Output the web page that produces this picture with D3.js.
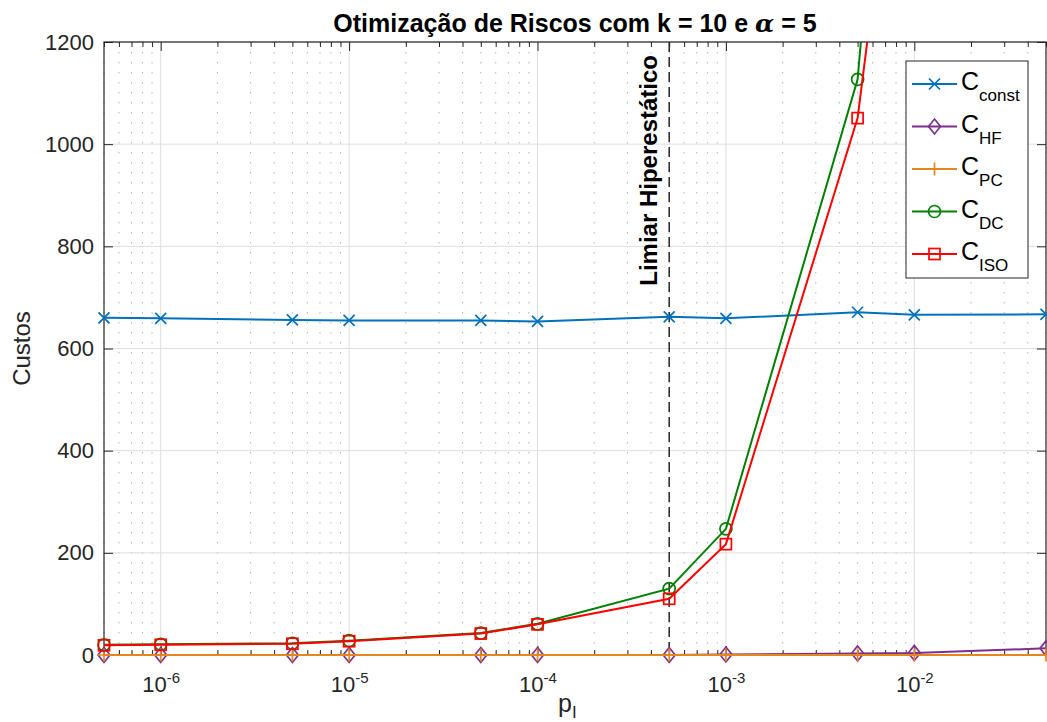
<!DOCTYPE html>
<html>
<head>
<meta charset="utf-8">
<script src="https://cdn.jsdelivr.net/npm/d3@7"></script>
<style>
  body { margin: 0; background: #fff; }
  svg { display: block; font-family: "Liberation Sans", Arial, sans-serif; }
</style>
</head>
<body>
<div id="chart"></div>
<script>
// values
const pValues = [5e-7, 1e-6, 5e-6, 1e-5, 5e-5, 1e-4, 5e-4, 1e-3, 5e-3, 1e-2, 5e-2];
const cConst = [660, 659, 656, 655, 655, 653, 662, 659, 671, 666, 667];
const cHF    = [0, 0, 0, 0, 0, 0, 0, 1, 3, 4, 13];
const cPC    = [0, 0, 0, 0, 0, 0, 0, 0, 0, 0, 0];
const cDC    = [20, 21, 23, 28, 43, 61, 130, 247, 1127, 2400, 9000];
const cISO   = [19, 20, 22, 27, 42, 60, 110, 217, 1051, 1930, 8000];
const yTicks = [0, 200, 400, 600, 800, 1000, 1200];
const xMajor = [1e-6, 1e-5, 1e-4, 1e-3, 1e-2];
const threshold = 5e-4;

const series = [
  { name: 'const', values: cConst, color: '#0072BD', marker: 'x' },
  { name: 'HF', values: cHF, color: '#7E2F8E', marker: 'diamond' },
  { name: 'PC', values: cPC, color: '#E3871E', marker: 'plus' },
  { name: 'DC', values: cDC, color: '#008000', marker: 'circle' },
  { name: 'ISO', values: cISO, color: '#FF0000', marker: 'square' }
];

const width = 1047, height = 722;
const pLeft = 104, pRight = 1046, pTop = 42, pBottom = 655;
const axisColor = '#262626';

const svg = d3.select('#chart').append('svg')
  .attr('width', width).attr('height', height);

const x = d3.scaleLog().domain([5e-7, 5e-2]).range([pLeft, pRight]);
const y = d3.scaleLinear().domain([0, 1200]).range([pBottom, pTop]);

// minor values for log axis
const xMinor = [];
for (let e = -7; e <= -2; e++) {
  for (let k = 2; k <= 9; k++) {
    const v = k * Math.pow(10, e);
    if (v >= 5e-7 && v <= 5e-2 * 1.0001) xMinor.push(v);
  }
}

// grid
const grid = svg.append('g');
grid.selectAll('.minor').data(xMinor).enter().append('line')
  .attr('x1', d => x(d)).attr('x2', d => x(d))
  .attr('y1', pTop).attr('y2', pBottom)
  .attr('stroke', '#b4b4b4').attr('stroke-width', 1)
  .attr('stroke-dasharray', '1.5,8.5');
grid.selectAll('.majx').data(xMajor).enter().append('line')
  .attr('x1', d => x(d)).attr('x2', d => x(d))
  .attr('y1', pTop).attr('y2', pBottom)
  .attr('stroke', '#dedede').attr('stroke-width', 1);
grid.selectAll('.majy').data(yTicks).enter().append('line')
  .attr('x1', pLeft).attr('x2', pRight)
  .attr('y1', d => y(d)).attr('y2', d => y(d))
  .attr('stroke', '#dedede').attr('stroke-width', 1);

// axes
function styleAxis(g) {
  g.select('.domain').remove();
  g.selectAll('line').attr('stroke', axisColor);
  g.selectAll('text').attr('fill', axisColor).attr('font-size', 22)
    .attr('font-family', '"Liberation Sans", Arial, sans-serif');
}

const fmtExp = d => Math.round(Math.log10(d));

const xAxis = svg.append('g').attr('transform', `translate(0,${pBottom})`)
  .call(d3.axisBottom(x).tickValues(xMajor).tickSizeInner(-9).tickSizeOuter(0).tickPadding(21).tickFormat(d => ''))
  .call(styleAxis);
xAxis.selectAll('.tick text').each(function(d) {
  const t = d3.select(this).attr('dy', '0.71em');
  t.append('tspan').text('10');
  t.append('tspan').attr('font-size', 15).attr('dy', '-0.6em').text(fmtExp(d));
});
svg.append('g').attr('transform', `translate(0,${pBottom})`)
  .call(d3.axisBottom(x).tickValues(xMinor).tickSizeInner(-5).tickSizeOuter(0).tickFormat(''))
  .call(styleAxis);
svg.append('g').attr('transform', `translate(0,${pTop})`)
  .call(d3.axisTop(x).tickValues(xMajor).tickSizeInner(-9).tickSizeOuter(0).tickFormat(''))
  .call(styleAxis);
svg.append('g').attr('transform', `translate(0,${pTop})`)
  .call(d3.axisTop(x).tickValues(xMinor).tickSizeInner(-5).tickSizeOuter(0).tickFormat(''))
  .call(styleAxis);
svg.append('g').attr('transform', `translate(${pLeft},0)`)
  .call(d3.axisLeft(y).tickValues(yTicks).tickFormat(d3.format('d')).tickSizeInner(-9).tickSizeOuter(0).tickPadding(10))
  .call(styleAxis);
svg.append('g').attr('transform', `translate(${pRight},0)`)
  .call(d3.axisRight(y).tickValues(yTicks).tickSizeInner(-9).tickSizeOuter(0).tickFormat(''))
  .call(styleAxis);

// box
svg.append('rect').attr('x', pLeft).attr('y', pTop)
  .attr('width', pRight - pLeft).attr('height', pBottom - pTop)
  .attr('fill', 'none').attr('stroke', axisColor).attr('stroke-width', 1.2);

// threshold line
svg.append('line')
  .attr('x1', x(threshold)).attr('x2', x(threshold))
  .attr('y1', pTop).attr('y2', pBottom)
  .attr('stroke', axisColor).attr('stroke-width', 1.5)
  .attr('stroke-dasharray', '10,5');
svg.append('text')
  .attr('transform', `translate(${x(threshold) - 12},55) rotate(-90)`)
  .attr('text-anchor', 'end')
  .attr('font-size', 24).attr('font-weight', 'bold')
  .attr('fill', '#000')
  .text('Limiar Hiperestático');

// series
svg.append('clipPath').attr('id', 'clip')
  .append('rect').attr('x', pLeft - 2).attr('y', pTop)
  .attr('width', pRight - pLeft + 4).attr('height', pBottom - pTop + 2);

const line = d3.line().x(d => x(d[0])).y(d => y(d[1]));

function drawMarker(g, type, color) {
  let el;
  if (type === 'x') el = g.append('path').attr('d', 'M-5.5,-5.5L5.5,5.5M-5.5,5.5L5.5,-5.5');
  else if (type === 'plus') el = g.append('path').attr('d', 'M-6.5,0L6.5,0M0,-6.5L0,6.5');
  else if (type === 'diamond') el = g.append('path').attr('d', 'M0,-7.5L6,0L0,7.5L-6,0Z');
  else if (type === 'circle') el = g.append('circle').attr('r', 6);
  else el = g.append('rect').attr('x', -5.5).attr('y', -5.5).attr('width', 11).attr('height', 11);
  el.attr('stroke', color).attr('stroke-width', 1.7).attr('fill', 'none');
}

series.forEach(s => {
  const pts = pValues.map((p, i) => [p, s.values[i]]);
  const g = svg.append('g');
  g.append('path').datum(pts)
    .attr('clip-path', 'url(#clip)')
    .attr('d', line).attr('fill', 'none')
    .attr('stroke', s.color).attr('stroke-width', 2);
  // markers are only hidden when the point lies outside the axes
  pts.filter(p => p[1] <= 1200).forEach(p => {
    drawMarker(g.append('g').attr('transform', `translate(${x(p[0])},${y(p[1])})`), s.marker, s.color);
  });
});

// labels
svg.append('text')
  .attr('x', (pLeft + pRight) / 2).attr('y', 32)
  .attr('text-anchor', 'middle').attr('font-size', 25).attr('font-weight', 'bold')
  .attr('fill', '#000')
  .call(t => {
    t.append('tspan').text('Otimização de Riscos com k = 10 e ');
    t.append('tspan').attr('font-family', '"DejaVu Serif", serif').attr('font-style', 'italic').text('α');
    t.append('tspan').text(' = 5');
  });

svg.append('text')
  .attr('transform', `translate(30,${(pTop + pBottom) / 2}) rotate(-90)`)
  .attr('text-anchor', 'middle').attr('font-size', 24).attr('fill', axisColor)
  .text('Custos');

svg.append('text')
  .attr('x', (pLeft + pRight) / 2 - 17).attr('y', 712)
  .attr('font-size', 25).attr('fill', axisColor)
  .call(t => {
    t.append('tspan').text('p');
    t.append('tspan').attr('font-size', 17).attr('dy', 6).text('I');
  });

// legend
const legend = svg.append('g');
legend.append('rect').attr('x', 906).attr('y', 61)
  .attr('width', 122).attr('height', 217)
  .attr('fill', '#fff').attr('stroke', axisColor).attr('stroke-width', 1);
const rowY = d3.scalePoint().domain(series.map(s => s.name)).range([84, 254]);
series.forEach(s => {
  const yy = rowY(s.name);
  legend.append('line').attr('x1', 912).attr('x2', 957)
    .attr('y1', yy).attr('y2', yy)
    .attr('stroke', s.color).attr('stroke-width', 2);
  drawMarker(legend.append('g').attr('transform', `translate(934.5,${yy})`), s.marker, s.color);
  const t = legend.append('text').attr('x', 961).attr('y', yy + 6)
    .attr('font-size', 25).attr('fill', '#000');
  t.append('tspan').text('C');
  t.append('tspan').attr('font-size', 17).attr('dy', 11).text(s.name);
});
</script>
</body>
</html>
